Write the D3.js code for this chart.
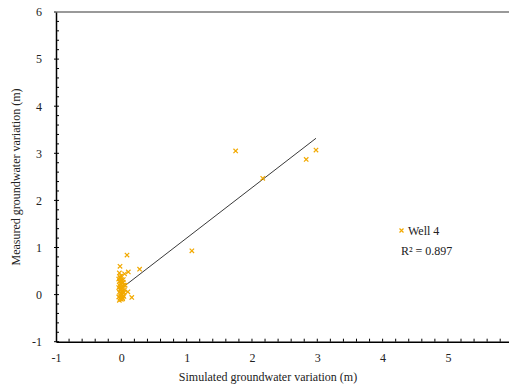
<!DOCTYPE html>
<html>
<head>
<meta charset="utf-8">
<script src="https://cdn.jsdelivr.net/npm/d3@7"></script>
<style>
  body { margin: 0; background: #fff; }
  text { font-family: "Liberation Serif", "DejaVu Serif", serif; fill: #222; }
</style>
</head>
<body>
<svg id="chart" width="509" height="388"></svg>
<script>
// measured vs simulated, well 4
var simulated = [1.75, 2.165, 2.83, 2.98, 1.08,
  0.087, -0.02, 0.28, -0.03, 0.05, 0.107, 0.10, 0.16,
  -0.04, -0.03, -0.02, -0.01, 0.00, 0.01, 0.02, 0.03, 0.04,
  -0.04, -0.02, 0.00, 0.02, 0.04, -0.03, -0.01, 0.01, 0.03,
  -0.04, -0.02, 0.00, 0.02, -0.03, -0.01, 0.01, 0.03, 0.05,
  -0.02, 0.00, 0.02, -0.01, 0.06, 0.04, -0.03, 0.01];
var measured = [3.05, 2.47, 2.87, 3.07, 0.93,
  0.84, 0.60, 0.54, 0.46, 0.44, 0.48, 0.06, -0.06,
  0.33, 0.28, 0.35, 0.22, 0.30, 0.25, 0.18, 0.32, 0.20,
  0.15, 0.10, 0.12, 0.08, 0.05, 0.05, 0.02, 0.00, -0.02,
  -0.05, -0.08, -0.10, -0.06, -0.12, -0.03, 0.14, 0.26, 0.10,
  0.38, 0.40, -0.09, 0.16, 0.20, -0.04, 0.20, 0.06];
var seriesName = "Well 4";
var r2Label = "R² = 0.897";
var trendSlope = 1.07, trendIntercept = 0.13;
var xTicks = [-1, 0, 1, 2, 3, 4, 5];
var yTicks = [-1, 0, 1, 2, 3, 4, 5, 6];

var svg = d3.select("#chart");
var orange = "#f2a900";
var fmt = function (d) { return String(d); };  // plain hyphen minus

var x = d3.scaleLinear().domain([-1, 5.95]).range([56, 510]);
var y = d3.scaleLinear().domain([-1, 6]).range([341.7, 12]);

var minor = d3.range(-1, 6.001, 0.2);

// top border
svg.append("line")
  .attr("x1", x(-1)).attr("x2", 509)
  .attr("y1", y(6)).attr("y2", y(6))
  .attr("stroke", "#777").attr("stroke-width", 1.5);

// y axis
var yAxis = svg.append("g").attr("transform", "translate(" + x(-1) + ",0)")
  .call(d3.axisLeft(y).tickValues(yTicks).tickSize(0).tickPadding(14).tickFormat(fmt));
yAxis.select(".domain").attr("stroke", "#000").attr("stroke-width", 1.5);
yAxis.selectAll("text").style("font-size", "12px").attr("font-family", null);
yAxis.selectAll(".minor").data(minor.filter(function (d) { return d < 5.99; })).enter()
  .append("line").attr("class", "minor")
  .attr("x1", 0).attr("x2", 3)
  .attr("y1", function (d) { return y(d); }).attr("y2", function (d) { return y(d); })
  .attr("stroke", "#000");
yAxis.selectAll(".major").data(yTicks).enter()
  .append("line").attr("class", "major")
  .attr("x1", -2).attr("x2", 0)
  .attr("y1", function (d) { return y(d); }).attr("y2", function (d) { return y(d); })
  .attr("stroke", "#000");

// x axis
var xAxis = svg.append("g").attr("transform", "translate(0," + y(-1) + ")")
  .call(d3.axisBottom(x).tickValues(xTicks).tickSize(0).tickPadding(12).tickFormat(fmt));
xAxis.select(".domain").attr("stroke", "#000").attr("stroke-width", 1.5);
xAxis.selectAll("text").style("font-size", "12px").attr("font-family", null);
xAxis.selectAll(".minor").data(minor.filter(function (d) { return d > -0.99; })).enter()
  .append("line").attr("class", "minor")
  .attr("x1", function (d) { return x(d); }).attr("x2", function (d) { return x(d); })
  .attr("y1", 0).attr("y2", -3)
  .attr("stroke", "#000");
d3.selectAll(".tick text").style("font-family", "Liberation Serif, serif");

// axis titles
svg.append("text")
  .attr("x", 268).attr("y", 381)
  .attr("text-anchor", "middle").style("font-size", "12px")
  .text("Simulated groundwater variation (m)");
svg.append("text")
  .attr("transform", "translate(20,177) rotate(-90)")
  .attr("text-anchor", "middle").style("font-size", "12px")
  .text("Measured groundwater variation (m)");

// trend line
var xs = d3.extent(simulated);
svg.append("line")
  .attr("x1", x(xs[0])).attr("y1", y(trendSlope * xs[0] + trendIntercept))
  .attr("x2", x(xs[1])).attr("y2", y(trendSlope * xs[1] + trendIntercept))
  .attr("stroke", "#222").attr("stroke-width", 0.9);

// markers
function cross(sel, s) {
  sel.append("path")
    .attr("d", "M" + (-s) + "," + (-s) + "L" + s + "," + s + "M" + (-s) + "," + s + "L" + s + "," + (-s))
    .attr("stroke", orange).attr("stroke-width", 1.2).attr("fill", "none");
}
var pts = svg.append("g").selectAll("g")
  .data(simulated.map(function (d, i) { return [d, measured[i]]; }))
  .enter().append("g")
  .attr("transform", function (d) { return "translate(" + x(d[0]) + "," + y(d[1]) + ")"; });
cross(pts, 2.2);

// legend
var leg = svg.append("g").attr("transform", "translate(401.5,230.5)");
cross(leg, 2);
svg.append("text").attr("x", 408).attr("y", 234.5).style("font-size", "12px").text(seriesName);
svg.append("text").attr("x", 401).attr("y", 255).style("font-size", "12px").text(r2Label);
</script>
</body>
</html>
